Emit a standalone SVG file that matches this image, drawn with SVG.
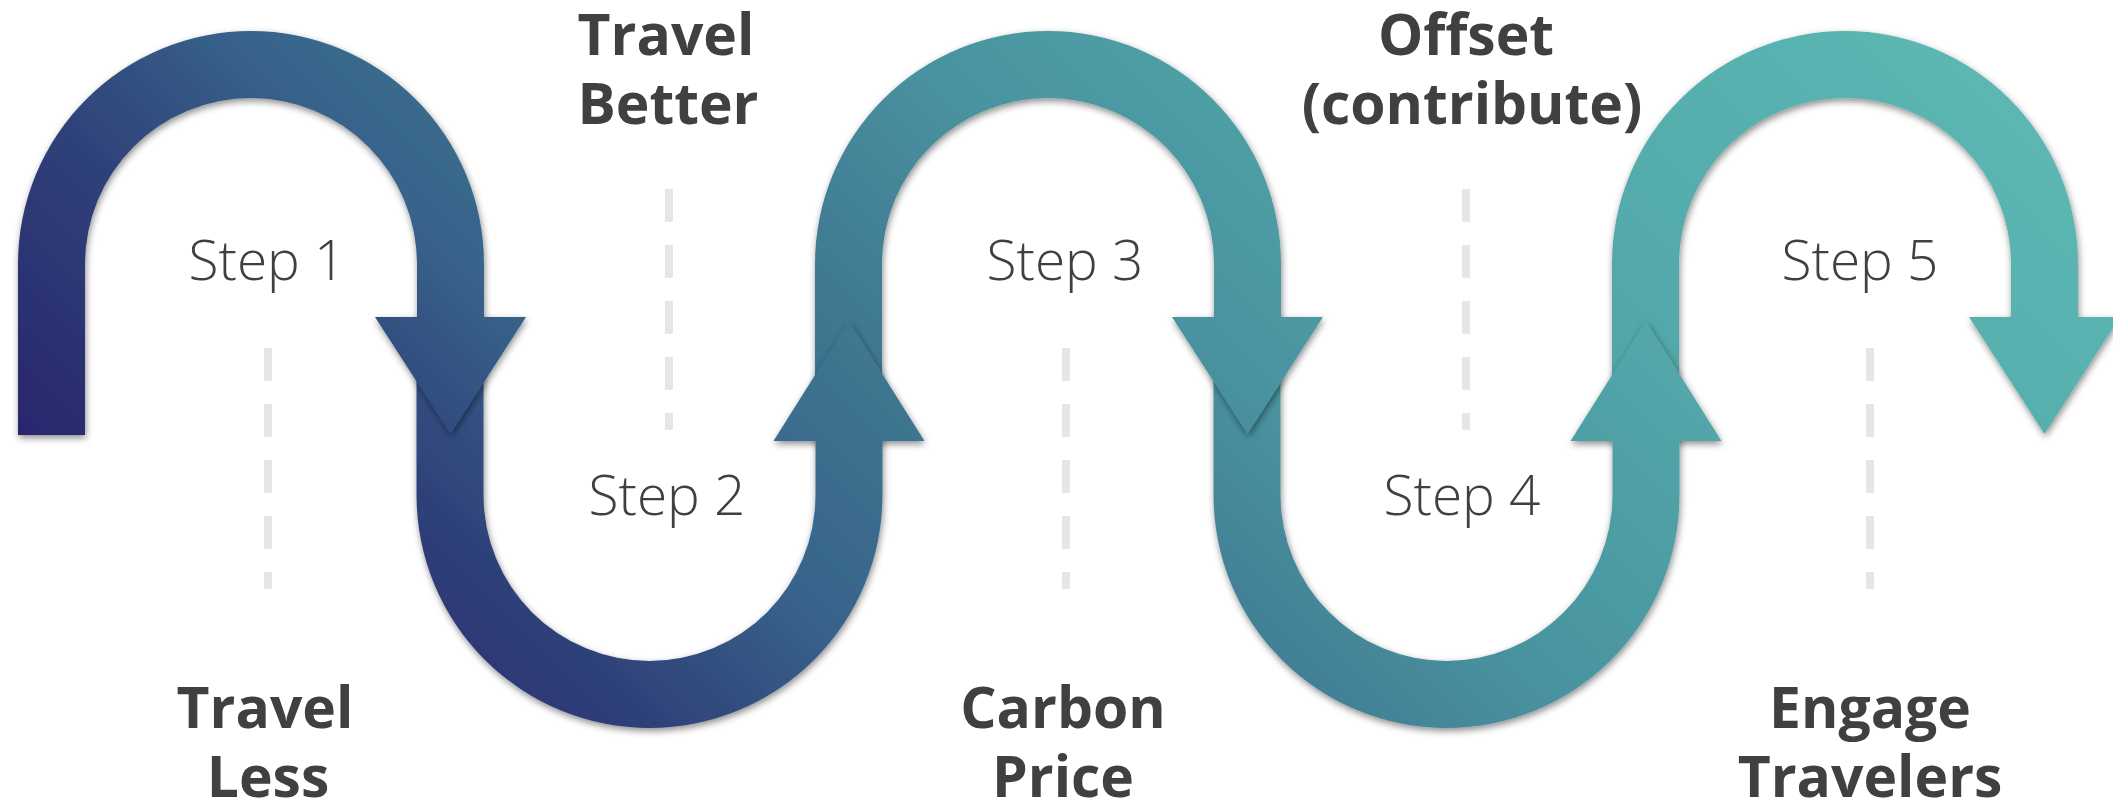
<svg xmlns="http://www.w3.org/2000/svg" width="2113" height="799" viewBox="0 0 2113 799">
<style>
.step{font-family:"Open Sans","Liberation Sans",sans-serif;font-weight:300;font-size:55px;fill:#404040;text-anchor:middle}
.lbl{font-family:"Open Sans","Liberation Sans",sans-serif;font-weight:700;font-size:57px;fill:#404040;text-anchor:middle}
.dash{stroke:#e6e6e6;stroke-width:8;stroke-dasharray:33 23;fill:none}
.seg{fill:url(#g);filter:url(#sh)}
</style>
<defs>
<linearGradient id="g" gradientUnits="userSpaceOnUse" x1="-225" y1="225" x2="975" y2="-975">
<stop offset="0" stop-color="#29246D"/>
<stop offset="0.16" stop-color="#2F4179"/>
<stop offset="0.27" stop-color="#37628A"/>
<stop offset="0.4" stop-color="#3F7690"/>
<stop offset="0.55" stop-color="#4993A0"/>
<stop offset="0.75" stop-color="#53A9AA"/>
<stop offset="1" stop-color="#5CB8B3"/>
</linearGradient>
<filter id="sh" x="-10%" y="-10%" width="120%" height="125%">
<feDropShadow dx="1" dy="3" stdDeviation="3.5" flood-color="#000" flood-opacity="0.45"/>
</filter>
</defs>
<g id="guides">
<line class="dash" x1="268" y1="348" x2="268" y2="589"/>
<line class="dash" x1="669" y1="189" x2="669" y2="430"/>
<line class="dash" x1="1066" y1="348" x2="1066" y2="589"/>
<line class="dash" x1="1466" y1="189" x2="1466" y2="430"/>
<line class="dash" x1="1870" y1="348" x2="1870" y2="589"/>
</g>
<g id="connectors">
<path id="seg5" class="seg" d="M1612 441 L1612 264 A233 233 0 0 1 2078 264 L2078 317 L2120 317 L2044.5 434 L1969 317 L2011 317 L2011 264 A166 166 0 0 0 1679 264 L1679 441 Z"/>
<path id="seg4" class="seg" d="M1213.5 317 L1213.5 495 A233 233 0 0 0 1679.5 495 L1679.5 441 L1721.5 441 L1646 321 L1570.5 441 L1612.5 441 L1612.5 495 A166 166 0 0 1 1280.5 495 L1280.5 317 Z"/>
<path id="seg3" class="seg" d="M815 441 L815 264 A233 233 0 0 1 1281 264 L1281 317 L1323 317 L1247.5 434 L1172 317 L1214 317 L1214 264 A166 166 0 0 0 882 264 L882 441 Z"/>
<path id="seg2" class="seg" d="M416.5 317 L416.5 495 A233 233 0 0 0 882.5 495 L882.5 441 L924.5 441 L849 321 L773.5 441 L815.5 441 L815.5 495 A166 166 0 0 1 483.5 495 L483.5 317 Z"/>
<path id="seg1" class="seg" d="M18 435 L18 264 A233 233 0 0 1 484 264 L484 317 L526 317 L450.5 434 L375 317 L417 317 L417 264 A166 166 0 0 0 85 264 L85 435 Z"/>
</g>
<g id="step1"><text class="step" x="267" y="280">Step 1</text></g>
<g id="step2"><text class="step" x="667" y="515">Step 2</text></g>
<g id="step3"><text class="step" x="1065" y="280">Step 3</text></g>
<g id="step4"><text class="step" x="1462" y="515">Step 4</text></g>
<g id="step5"><text class="step" x="1860" y="280">Step 5</text></g>
<g id="label1"><text class="lbl" x="265" y="728">Travel</text><text class="lbl" x="268" y="797">Less</text></g>
<g id="label2"><text class="lbl" x="666" y="55">Travel</text><text class="lbl" x="668" y="124">Better</text></g>
<g id="label3"><text class="lbl" x="1063" y="728">Carbon</text><text class="lbl" x="1063" y="797">Price</text></g>
<g id="label4"><text class="lbl" x="1466" y="55">Offset</text><text class="lbl" x="1472" y="124">(contribute)</text></g>
<g id="label5"><text class="lbl" x="1870" y="728">Engage</text><text class="lbl" x="1870" y="797">Travelers</text></g>
</svg>
